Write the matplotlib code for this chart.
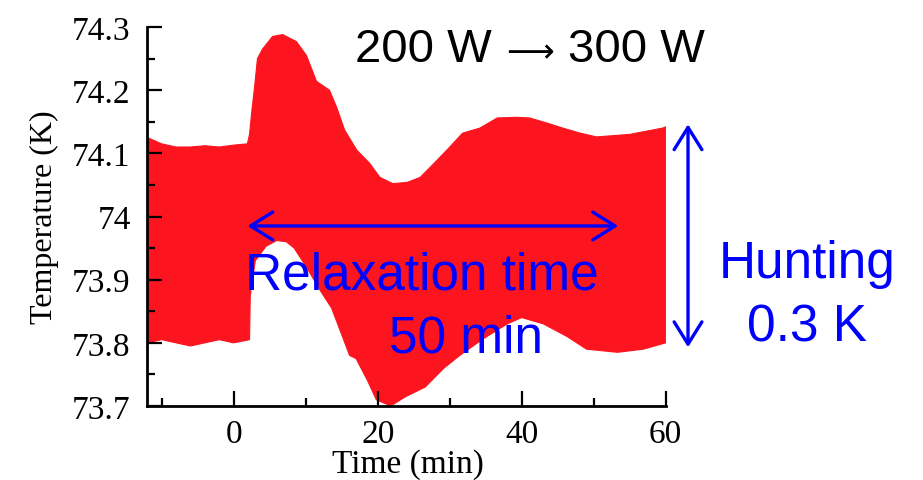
import matplotlib
matplotlib.use("Agg")
import matplotlib.pyplot as plt
from matplotlib.ticker import MultipleLocator, FuncFormatter
import numpy as np

# upper edge of the temperature band (min, K)
t_upper = [-12, -10, -8, -6, -4, -2, 0, 1.9, 2.2, 2.5, 2.9, 3.3, 4.0, 5.4, 6.8,
           8.7, 10.1, 11.5, 13.3, 14.3, 15.4, 17.1, 18.9, 20.3, 22.1, 24.1,
           25.9, 27.3, 29.6, 31.8, 34.2, 36.6, 39.3, 41.1, 43.5, 45.7, 48.1,
           50.4, 55.0, 59.6, 60.0]
temp_upper = [74.125, 74.115, 74.11, 74.11, 74.112, 74.11, 74.113, 74.115,
              74.13, 74.165, 74.205, 74.25, 74.265, 74.285, 74.288, 74.277,
              74.255, 74.214, 74.2, 74.173, 74.137, 74.105, 74.084, 74.062,
              74.052, 74.054, 74.062, 74.078, 74.105, 74.132, 74.14, 74.156,
              74.157, 74.156, 74.148, 74.14, 74.132, 74.126, 74.13, 74.14,
              74.142]

# lower edge of the band
t_lower = [-12, -10, -8, -6, -4, -2, 0, 2.2, 2.3, 3.0, 4.5, 6.0, 7.3, 8.4,
           10.1, 11.9, 13.6, 14.7, 16.1, 17.0, 18.6, 19.8, 21.8, 23.9, 26.6,
           29.2, 31.4, 34.6, 38.0, 40.0, 43.0, 46.3, 49.0, 53.3, 56.9, 60.0]
temp_lower = [73.80, 73.805, 73.80, 73.795, 73.80, 73.805, 73.80, 73.805,
              73.875, 73.93, 73.953, 73.962, 73.96, 73.95, 73.92, 73.885,
              73.855, 73.822, 73.78, 73.775, 73.74, 73.71, 73.70, 73.715,
              73.73, 73.76, 73.78, 73.806, 73.83, 73.84, 73.83, 73.81,
              73.79, 73.785, 73.79, 73.80]

x_major = [0, 20, 40, 60]
y_major = [73.7, 73.8, 73.9, 74.0, 74.1, 74.2, 74.3]

W, H = 923, 481
fig = plt.figure(figsize=(W / 100, H / 100), dpi=100)
ax = fig.add_axes([147.3 / W, 1 - 407 / H, (665.7 - 147.3) / W, (407 - 28) / H])

serif = "Liberation Serif"
sans = "Liberation Sans"

xs = np.concatenate([t_upper, t_lower[::-1]])
ys = np.concatenate([temp_upper, temp_lower[::-1]])
ax.fill(xs, ys, color="#fc141e", lw=0.8, ec="#fc141e")

ax.set_xlim(-12, 60)
ax.set_ylim(73.7, 74.3)
ax.set_xticks(x_major)
ax.set_yticks(y_major)
ax.xaxis.set_minor_locator(MultipleLocator(10))
ax.yaxis.set_minor_locator(MultipleLocator(0.05))
ax.yaxis.set_major_formatter(FuncFormatter(lambda v, p: f"{v:g}"))

for s in ["top", "right"]:
    ax.spines[s].set_visible(False)
for s in ["left", "bottom"]:
    ax.spines[s].set_linewidth(2.0)
ax.tick_params(which="both", direction="in", width=1.6, top=False, right=False)
ax.tick_params(which="major", length=10.5)
ax.tick_params(which="minor", length=6)
ax.tick_params(axis="y", which="major", pad=12)
ax.tick_params(axis="x", which="major", pad=9)
for lab in ax.get_xticklabels() + ax.get_yticklabels():
    lab.set_fontfamily(serif)
    lab.set_fontsize(24)

AW = 665.7 - 147.3
AH = 407 - 28
ax.set_xlabel("Time (min)", family=serif, fontsize=24, va="baseline")
ax.xaxis.set_label_coords((408 - 147.3) / AW, (407 - 473) / AH)
ax.set_ylabel("Temperature (K)", family=serif, fontsize=23)
ax.yaxis.set_label_coords((59 - 147.3) / AW, 0.5)

# annotations
def fx(px):
    return px / W

def fy(py):
    return 1 - py / H

fig.text(fx(355), fy(62), "200 W", family=sans, fontsize=34,
         color="black", ha="left", va="baseline")
fig.text(fx(530), fy(62), "\u27f6", family=["DejaVu Sans"], fontsize=24,
         color="black", ha="center", va="baseline")
fig.text(fx(568), fy(62), "300 W", family=sans, fontsize=34,
         color="black", ha="left", va="baseline")
fig.text(fx(245), fy(290), "Relaxation time", family=sans, fontsize=37,
         color="blue", ha="left", va="baseline")
fig.text(fx(389), fy(353), "50 min", family=sans, fontsize=37,
         color="blue", ha="left", va="baseline")
fig.text(fx(807), fy(278), "Hunting", family=sans, fontsize=37,
         color="blue", ha="center", va="baseline")
fig.text(fx(807), fy(342), "0.3 K", family=sans, fontsize=37,
         color="blue", ha="center", va="baseline")

arrow = dict(arrowstyle="<->,head_length=0.8,head_width=0.5", lw=2.4,
             color="blue", mutation_scale=20, shrinkA=0, shrinkB=0)
ax.annotate("", xy=(53.4, 73.985), xytext=(1.9, 73.985), arrowprops=arrow)
ax.annotate("", xy=(63.1, 74.146), xytext=(63.1, 73.793), arrowprops=arrow,
            annotation_clip=False)

fig.savefig("out.png", dpi=100)
